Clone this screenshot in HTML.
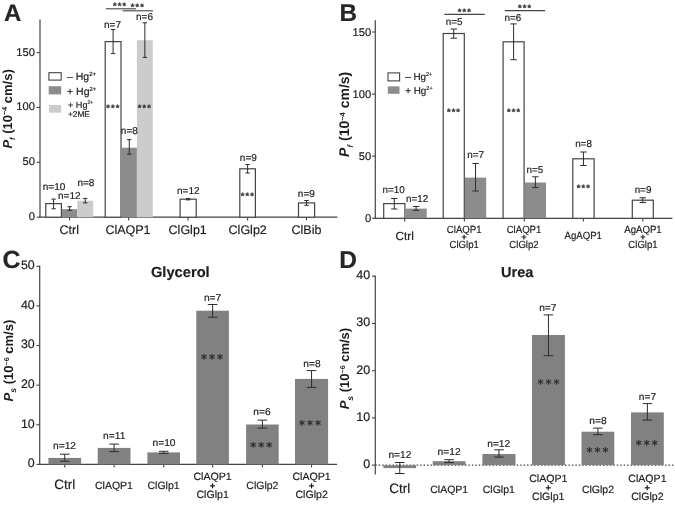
<!DOCTYPE html>
<html><head><meta charset="utf-8"><title>Figure</title>
<style>
html,body{margin:0;padding:0;background:#fff;}
svg{display:block;font-family:"Liberation Sans",sans-serif;text-rendering:geometricPrecision;filter:blur(0.4px);}
</style></head><body>
<svg width="675" height="506" viewBox="0 0 675 506">
<rect x="0" y="0" width="675" height="506" fill="#ffffff"/>
<text x="3.90" y="20.70" font-size="24" text-anchor="start" font-weight="bold" fill="#262626" stroke="#262626" stroke-width="0.18" >A</text>
<line x1="40.00" y1="19.50" x2="40.00" y2="217.80" stroke="#444444" stroke-width="1.2" />
<line x1="39.40" y1="217.20" x2="337.30" y2="217.20" stroke="#444444" stroke-width="1.2" />
<line x1="36.70" y1="217.20" x2="40.00" y2="217.20" stroke="#444444" stroke-width="1.1" />
<text x="35.00" y="220.10" font-size="11.2" text-anchor="end" font-weight="normal" fill="#1c1c1c" stroke="#1c1c1c" stroke-width="0.18" >0</text>
<line x1="36.70" y1="162.33" x2="40.00" y2="162.33" stroke="#444444" stroke-width="1.1" />
<text x="35.00" y="165.23" font-size="11.2" text-anchor="end" font-weight="normal" fill="#1c1c1c" stroke="#1c1c1c" stroke-width="0.18" >50</text>
<line x1="36.70" y1="107.47" x2="40.00" y2="107.47" stroke="#444444" stroke-width="1.1" />
<text x="35.00" y="110.37" font-size="11.2" text-anchor="end" font-weight="normal" fill="#1c1c1c" stroke="#1c1c1c" stroke-width="0.18" >100</text>
<line x1="36.70" y1="52.60" x2="40.00" y2="52.60" stroke="#444444" stroke-width="1.1" />
<text x="35.00" y="55.50" font-size="11.2" text-anchor="end" font-weight="normal" fill="#1c1c1c" stroke="#1c1c1c" stroke-width="0.18" >150</text>
<text transform="translate(11.5,148.6) rotate(-90)" font-size="13" font-weight="bold" fill="#1c1c1c"><tspan font-style="italic">P</tspan><tspan font-style="italic" font-size="7.5" dy="3.6">f</tspan><tspan dy="-3.6"> (10</tspan><tspan font-size="7.2" dy="-4.4">−4</tspan><tspan dy="4.4"> cm/s)</tspan></text>
<line x1="69.50" y1="217.20" x2="69.50" y2="220.40" stroke="#444444" stroke-width="1.1" />
<line x1="128.70" y1="217.20" x2="128.70" y2="220.40" stroke="#444444" stroke-width="1.1" />
<line x1="188.10" y1="217.20" x2="188.10" y2="220.40" stroke="#444444" stroke-width="1.1" />
<line x1="247.60" y1="217.20" x2="247.60" y2="220.40" stroke="#444444" stroke-width="1.1" />
<line x1="306.50" y1="217.20" x2="306.50" y2="220.40" stroke="#444444" stroke-width="1.1" />
<rect x="45.80" y="203.60" width="15.60" height="13.60" fill="#fff" stroke="#444444" stroke-width="1.2"/>
<line x1="53.60" y1="199.10" x2="53.60" y2="208.80" stroke="#2c2c2c" stroke-width="1.0" />
<line x1="51.40" y1="199.10" x2="55.80" y2="199.10" stroke="#2c2c2c" stroke-width="1.0" />
<line x1="51.40" y1="208.80" x2="55.80" y2="208.80" stroke="#2c2c2c" stroke-width="1.0" />
<rect x="62.00" y="209.20" width="15.30" height="8.00" fill="#8c8c8c"/>
<line x1="69.65" y1="206.70" x2="69.65" y2="210.30" stroke="#2c2c2c" stroke-width="1.0" />
<line x1="67.45" y1="206.70" x2="71.85" y2="206.70" stroke="#2c2c2c" stroke-width="1.0" />
<line x1="67.45" y1="210.30" x2="71.85" y2="210.30" stroke="#2c2c2c" stroke-width="1.0" />
<rect x="77.30" y="200.70" width="15.90" height="16.50" fill="#cccccc"/>
<line x1="85.25" y1="198.40" x2="85.25" y2="202.90" stroke="#2c2c2c" stroke-width="1.0" />
<line x1="83.05" y1="198.40" x2="87.45" y2="198.40" stroke="#2c2c2c" stroke-width="1.0" />
<line x1="83.05" y1="202.90" x2="87.45" y2="202.90" stroke="#2c2c2c" stroke-width="1.0" />
<rect x="105.20" y="41.60" width="15.80" height="175.60" fill="#fff" stroke="#444444" stroke-width="1.2"/>
<line x1="113.10" y1="29.50" x2="113.10" y2="53.60" stroke="#2c2c2c" stroke-width="1.0" />
<line x1="110.90" y1="29.50" x2="115.30" y2="29.50" stroke="#2c2c2c" stroke-width="1.0" />
<line x1="110.90" y1="53.60" x2="115.30" y2="53.60" stroke="#2c2c2c" stroke-width="1.0" />
<rect x="121.60" y="147.70" width="15.30" height="69.50" fill="#8c8c8c"/>
<line x1="129.25" y1="139.60" x2="129.25" y2="154.20" stroke="#2c2c2c" stroke-width="1.0" />
<line x1="127.05" y1="139.60" x2="131.45" y2="139.60" stroke="#2c2c2c" stroke-width="1.0" />
<line x1="127.05" y1="154.20" x2="131.45" y2="154.20" stroke="#2c2c2c" stroke-width="1.0" />
<rect x="136.90" y="40.20" width="15.90" height="177.00" fill="#cccccc"/>
<line x1="144.85" y1="22.80" x2="144.85" y2="57.40" stroke="#2c2c2c" stroke-width="1.0" />
<line x1="142.65" y1="22.80" x2="147.05" y2="22.80" stroke="#2c2c2c" stroke-width="1.0" />
<line x1="142.65" y1="57.40" x2="147.05" y2="57.40" stroke="#2c2c2c" stroke-width="1.0" />
<rect x="180.10" y="199.20" width="16.10" height="18.00" fill="#fff" stroke="#444444" stroke-width="1.2"/>
<line x1="188.15" y1="198.60" x2="188.15" y2="199.90" stroke="#2c2c2c" stroke-width="1.0" />
<line x1="185.95" y1="198.60" x2="190.35" y2="198.60" stroke="#2c2c2c" stroke-width="1.0" />
<line x1="185.95" y1="199.90" x2="190.35" y2="199.90" stroke="#2c2c2c" stroke-width="1.0" />
<rect x="239.80" y="168.80" width="15.60" height="48.40" fill="#fff" stroke="#444444" stroke-width="1.2"/>
<line x1="247.60" y1="164.50" x2="247.60" y2="173.00" stroke="#2c2c2c" stroke-width="1.0" />
<line x1="245.40" y1="164.50" x2="249.80" y2="164.50" stroke="#2c2c2c" stroke-width="1.0" />
<line x1="245.40" y1="173.00" x2="249.80" y2="173.00" stroke="#2c2c2c" stroke-width="1.0" />
<rect x="298.50" y="202.90" width="16.10" height="14.30" fill="#fff" stroke="#444444" stroke-width="1.2"/>
<line x1="306.55" y1="200.50" x2="306.55" y2="205.30" stroke="#2c2c2c" stroke-width="1.0" />
<line x1="304.35" y1="200.50" x2="308.75" y2="200.50" stroke="#2c2c2c" stroke-width="1.0" />
<line x1="304.35" y1="205.30" x2="308.75" y2="205.30" stroke="#2c2c2c" stroke-width="1.0" />
<text transform="translate(54.00,189.60) scale(1.0,1)" font-size="10.0" text-anchor="middle" fill="#1c1c1c" stroke="#1c1c1c" stroke-width="0.18">n=10</text>
<text transform="translate(69.30,198.60) scale(1.0,1)" font-size="10.0" text-anchor="middle" fill="#1c1c1c" stroke="#1c1c1c" stroke-width="0.18">n=12</text>
<text transform="translate(85.90,185.60) scale(1.0,1)" font-size="10.0" text-anchor="middle" fill="#1c1c1c" stroke="#1c1c1c" stroke-width="0.18">n=8</text>
<text transform="translate(112.50,27.50) scale(1.0,1)" font-size="10.0" text-anchor="middle" fill="#1c1c1c" stroke="#1c1c1c" stroke-width="0.18">n=7</text>
<text transform="translate(129.30,133.50) scale(1.0,1)" font-size="10.0" text-anchor="middle" fill="#1c1c1c" stroke="#1c1c1c" stroke-width="0.18">n=8</text>
<text transform="translate(144.50,19.80) scale(1.0,1)" font-size="10.0" text-anchor="middle" fill="#1c1c1c" stroke="#1c1c1c" stroke-width="0.18">n=6</text>
<text transform="translate(188.30,193.60) scale(1.0,1)" font-size="10.0" text-anchor="middle" fill="#1c1c1c" stroke="#1c1c1c" stroke-width="0.18">n=12</text>
<text transform="translate(248.30,161.10) scale(1.0,1)" font-size="10.0" text-anchor="middle" fill="#1c1c1c" stroke="#1c1c1c" stroke-width="0.18">n=9</text>
<text transform="translate(306.30,196.80) scale(1.0,1)" font-size="10.0" text-anchor="middle" fill="#1c1c1c" stroke="#1c1c1c" stroke-width="0.18">n=9</text>
<text x="113.30" y="110.89" font-size="9.2" letter-spacing="1.15" text-anchor="middle" font-weight="bold" fill="#333333" stroke="#333333" stroke-width="0.3">***</text>
<text x="144.90" y="110.89" font-size="9.2" letter-spacing="1.15" text-anchor="middle" font-weight="bold" fill="#333333" stroke="#333333" stroke-width="0.3">***</text>
<text x="247.90" y="198.79" font-size="9.2" letter-spacing="1.15" text-anchor="middle" font-weight="bold" fill="#333333" stroke="#333333" stroke-width="0.3">***</text>
<line x1="105.90" y1="8.80" x2="136.00" y2="8.80" stroke="#444444" stroke-width="1.1" />
<line x1="122.60" y1="10.80" x2="153.00" y2="10.80" stroke="#444444" stroke-width="1.1" />
<text x="120.10" y="8.99" font-size="9.2" letter-spacing="1.15" text-anchor="middle" font-weight="bold" fill="#333333" stroke="#333333" stroke-width="0.3">***</text>
<text x="137.90" y="10.29" font-size="9.2" letter-spacing="1.15" text-anchor="middle" font-weight="bold" fill="#333333" stroke="#333333" stroke-width="0.3">***</text>
<rect x="48.90" y="72.70" width="12.30" height="7.40" fill="#fff" stroke="#444444" stroke-width="1.1"/>
<rect x="48.70" y="86.20" width="12.50" height="8.20" fill="#8c8c8c"/>
<rect x="49.00" y="105.00" width="12.20" height="7.70" fill="#cccccc"/>
<text x="67" y="80" font-size="10.5" fill="#1c1c1c" stroke="#1c1c1c" stroke-width="0.18">– Hg<tspan font-size="5.9" dy="-3.7">2+</tspan></text>
<text x="67" y="94.7" font-size="10.5" fill="#1c1c1c" stroke="#1c1c1c" stroke-width="0.18">+ Hg<tspan font-size="5.9" dy="-3.7">2+</tspan></text>
<text x="68" y="107.6" font-size="9.1" fill="#1c1c1c" stroke="#1c1c1c" stroke-width="0.18">+ Hg<tspan font-size="5.1" dy="-3.2">2+</tspan></text>
<text x="68.00" y="116.60" font-size="8.3" text-anchor="start" font-weight="normal" fill="#1c1c1c" stroke="#1c1c1c" stroke-width="0.18" >+2ME</text>
<text x="69.20" y="234.40" font-size="12.5" text-anchor="middle" font-weight="normal" fill="#1c1c1c" stroke="#1c1c1c" stroke-width="0.18" >Ctrl</text>
<text x="128.00" y="234.40" font-size="12.5" text-anchor="middle" font-weight="normal" fill="#1c1c1c" stroke="#1c1c1c" stroke-width="0.18" >ClAQP1</text>
<text x="187.70" y="234.40" font-size="12.5" text-anchor="middle" font-weight="normal" fill="#1c1c1c" stroke="#1c1c1c" stroke-width="0.18" >ClGlp1</text>
<text x="247.70" y="234.40" font-size="12.5" text-anchor="middle" font-weight="normal" fill="#1c1c1c" stroke="#1c1c1c" stroke-width="0.18" >ClGlp2</text>
<text x="306.50" y="234.40" font-size="12.5" text-anchor="middle" font-weight="normal" fill="#1c1c1c" stroke="#1c1c1c" stroke-width="0.18" >ClBib</text>
<text x="339.40" y="20.50" font-size="24.3" text-anchor="start" font-weight="bold" fill="#262626" stroke="#262626" stroke-width="0.18" >B</text>
<line x1="375.30" y1="20.20" x2="375.30" y2="218.90" stroke="#444444" stroke-width="1.2" />
<line x1="374.70" y1="218.30" x2="672.40" y2="218.30" stroke="#444444" stroke-width="1.2" />
<line x1="372.00" y1="218.30" x2="375.30" y2="218.30" stroke="#444444" stroke-width="1.1" />
<text x="371.20" y="222.00" font-size="11.2" text-anchor="end" font-weight="normal" fill="#1c1c1c" stroke="#1c1c1c" stroke-width="0.18" >0</text>
<line x1="372.00" y1="156.20" x2="375.30" y2="156.20" stroke="#444444" stroke-width="1.1" />
<text x="371.20" y="159.90" font-size="11.2" text-anchor="end" font-weight="normal" fill="#1c1c1c" stroke="#1c1c1c" stroke-width="0.18" >50</text>
<line x1="372.00" y1="94.10" x2="375.30" y2="94.10" stroke="#444444" stroke-width="1.1" />
<text x="371.20" y="97.80" font-size="11.2" text-anchor="end" font-weight="normal" fill="#1c1c1c" stroke="#1c1c1c" stroke-width="0.18" >100</text>
<line x1="372.00" y1="32.00" x2="375.30" y2="32.00" stroke="#444444" stroke-width="1.1" />
<text x="371.20" y="35.70" font-size="11.2" text-anchor="end" font-weight="normal" fill="#1c1c1c" stroke="#1c1c1c" stroke-width="0.18" >150</text>
<text transform="translate(349.0,156.9) rotate(-90)" font-size="14" font-weight="bold" fill="#1c1c1c"><tspan font-style="italic">P</tspan><tspan font-style="italic" font-size="7.9" dy="3.6">f</tspan><tspan dy="-3.6"> (10</tspan><tspan font-size="7.5" dy="-4.4">−4</tspan><tspan dy="4.4"> cm/s)</tspan></text>
<line x1="404.70" y1="218.30" x2="404.70" y2="221.50" stroke="#444444" stroke-width="1.1" />
<line x1="464.40" y1="218.30" x2="464.40" y2="221.50" stroke="#444444" stroke-width="1.1" />
<line x1="524.30" y1="218.30" x2="524.30" y2="221.50" stroke="#444444" stroke-width="1.1" />
<line x1="583.40" y1="218.30" x2="583.40" y2="221.50" stroke="#444444" stroke-width="1.1" />
<line x1="642.80" y1="218.30" x2="642.80" y2="221.50" stroke="#444444" stroke-width="1.1" />
<rect x="383.70" y="203.60" width="21.20" height="14.70" fill="#fff" stroke="#444444" stroke-width="1.2"/>
<line x1="394.30" y1="198.50" x2="394.30" y2="209.00" stroke="#2c2c2c" stroke-width="1.0" />
<line x1="391.10" y1="198.50" x2="397.50" y2="198.50" stroke="#2c2c2c" stroke-width="1.0" />
<line x1="391.10" y1="209.00" x2="397.50" y2="209.00" stroke="#2c2c2c" stroke-width="1.0" />
<rect x="405.50" y="208.60" width="21.20" height="9.70" fill="#8c8c8c"/>
<line x1="416.10" y1="206.50" x2="416.10" y2="210.30" stroke="#2c2c2c" stroke-width="1.0" />
<line x1="412.90" y1="206.50" x2="419.30" y2="206.50" stroke="#2c2c2c" stroke-width="1.0" />
<line x1="412.90" y1="210.30" x2="419.30" y2="210.30" stroke="#2c2c2c" stroke-width="1.0" />
<rect x="443.20" y="33.50" width="21.10" height="184.80" fill="#fff" stroke="#444444" stroke-width="1.2"/>
<line x1="453.75" y1="29.00" x2="453.75" y2="38.20" stroke="#2c2c2c" stroke-width="1.0" />
<line x1="450.55" y1="29.00" x2="456.95" y2="29.00" stroke="#2c2c2c" stroke-width="1.0" />
<line x1="450.55" y1="38.20" x2="456.95" y2="38.20" stroke="#2c2c2c" stroke-width="1.0" />
<rect x="464.90" y="177.60" width="21.30" height="40.70" fill="#8c8c8c"/>
<line x1="475.55" y1="163.50" x2="475.55" y2="191.00" stroke="#2c2c2c" stroke-width="1.0" />
<line x1="472.35" y1="163.50" x2="478.75" y2="163.50" stroke="#2c2c2c" stroke-width="1.0" />
<line x1="472.35" y1="191.00" x2="478.75" y2="191.00" stroke="#2c2c2c" stroke-width="1.0" />
<rect x="503.10" y="41.80" width="21.00" height="176.50" fill="#fff" stroke="#444444" stroke-width="1.2"/>
<line x1="513.60" y1="23.90" x2="513.60" y2="59.70" stroke="#2c2c2c" stroke-width="1.0" />
<line x1="510.40" y1="23.90" x2="516.80" y2="23.90" stroke="#2c2c2c" stroke-width="1.0" />
<line x1="510.40" y1="59.70" x2="516.80" y2="59.70" stroke="#2c2c2c" stroke-width="1.0" />
<rect x="524.70" y="182.50" width="21.30" height="35.80" fill="#8c8c8c"/>
<line x1="535.35" y1="176.80" x2="535.35" y2="187.60" stroke="#2c2c2c" stroke-width="1.0" />
<line x1="532.15" y1="176.80" x2="538.55" y2="176.80" stroke="#2c2c2c" stroke-width="1.0" />
<line x1="532.15" y1="187.60" x2="538.55" y2="187.60" stroke="#2c2c2c" stroke-width="1.0" />
<rect x="572.80" y="158.80" width="21.30" height="59.50" fill="#fff" stroke="#444444" stroke-width="1.2"/>
<line x1="583.45" y1="152.00" x2="583.45" y2="165.50" stroke="#2c2c2c" stroke-width="1.0" />
<line x1="580.25" y1="152.00" x2="586.65" y2="152.00" stroke="#2c2c2c" stroke-width="1.0" />
<line x1="580.25" y1="165.50" x2="586.65" y2="165.50" stroke="#2c2c2c" stroke-width="1.0" />
<rect x="632.30" y="200.20" width="21.00" height="18.10" fill="#fff" stroke="#444444" stroke-width="1.2"/>
<line x1="642.80" y1="197.80" x2="642.80" y2="202.60" stroke="#2c2c2c" stroke-width="1.0" />
<line x1="639.60" y1="197.80" x2="646.00" y2="197.80" stroke="#2c2c2c" stroke-width="1.0" />
<line x1="639.60" y1="202.60" x2="646.00" y2="202.60" stroke="#2c2c2c" stroke-width="1.0" />
<text transform="translate(393.70,193.10) scale(1.0,1)" font-size="9.9" text-anchor="middle" fill="#1c1c1c" stroke="#1c1c1c" stroke-width="0.18">n=10</text>
<text transform="translate(417.10,201.70) scale(1.0,1)" font-size="9.9" text-anchor="middle" fill="#1c1c1c" stroke="#1c1c1c" stroke-width="0.18">n=12</text>
<text transform="translate(454.20,25.20) scale(1.0,1)" font-size="9.9" text-anchor="middle" fill="#1c1c1c" stroke="#1c1c1c" stroke-width="0.18">n=5</text>
<text transform="translate(475.70,158.30) scale(1.0,1)" font-size="9.9" text-anchor="middle" fill="#1c1c1c" stroke="#1c1c1c" stroke-width="0.18">n=7</text>
<text transform="translate(512.90,20.80) scale(1.0,1)" font-size="9.9" text-anchor="middle" fill="#1c1c1c" stroke="#1c1c1c" stroke-width="0.18">n=6</text>
<text transform="translate(534.80,172.80) scale(1.0,1)" font-size="9.9" text-anchor="middle" fill="#1c1c1c" stroke="#1c1c1c" stroke-width="0.18">n=5</text>
<text transform="translate(583.50,146.70) scale(1.0,1)" font-size="9.9" text-anchor="middle" fill="#1c1c1c" stroke="#1c1c1c" stroke-width="0.18">n=8</text>
<text transform="translate(643.00,192.50) scale(1.0,1)" font-size="9.9" text-anchor="middle" fill="#1c1c1c" stroke="#1c1c1c" stroke-width="0.18">n=9</text>
<text x="454.00" y="114.69" font-size="9.2" letter-spacing="1.15" text-anchor="middle" font-weight="bold" fill="#333333" stroke="#333333" stroke-width="0.3">***</text>
<text x="514.10" y="114.69" font-size="9.2" letter-spacing="1.15" text-anchor="middle" font-weight="bold" fill="#333333" stroke="#333333" stroke-width="0.3">***</text>
<text x="583.80" y="190.99" font-size="9.2" letter-spacing="1.15" text-anchor="middle" font-weight="bold" fill="#333333" stroke="#333333" stroke-width="0.3">***</text>
<line x1="444.40" y1="14.40" x2="484.70" y2="14.40" stroke="#444444" stroke-width="1.1" />
<line x1="504.80" y1="10.60" x2="545.10" y2="10.60" stroke="#444444" stroke-width="1.1" />
<text x="464.90" y="14.89" font-size="9.2" letter-spacing="1.15" text-anchor="middle" font-weight="bold" fill="#333333" stroke="#333333" stroke-width="0.3">***</text>
<text x="525.10" y="11.19" font-size="9.2" letter-spacing="1.15" text-anchor="middle" font-weight="bold" fill="#333333" stroke="#333333" stroke-width="0.3">***</text>
<rect x="388.00" y="72.90" width="11.60" height="8.00" fill="#fff" stroke="#444444" stroke-width="1.1"/>
<rect x="387.80" y="86.40" width="11.70" height="7.40" fill="#8c8c8c"/>
<text x="405.2" y="79.9" font-size="9.9" fill="#1c1c1c" stroke="#1c1c1c" stroke-width="0.18">– Hg<tspan font-size="5.5" dy="-3.5">2+</tspan></text>
<text x="405.2" y="93.9" font-size="9.9" fill="#1c1c1c" stroke="#1c1c1c" stroke-width="0.18">+ Hg<tspan font-size="5.5" dy="-3.5">2+</tspan></text>
<text x="404.70" y="240.10" font-size="11.8" text-anchor="middle" font-weight="normal" fill="#1c1c1c" stroke="#1c1c1c" stroke-width="0.18" >Ctrl</text>
<text transform="translate(464.20,232.90) scale(0.925,1)" font-size="10.4" text-anchor="middle" font-weight="normal" fill="#1c1c1c" stroke="#1c1c1c" stroke-width="0.18">ClAQP1</text>
<text x="464.20" y="239.50" font-size="9" text-anchor="middle" font-weight="bold" fill="#1c1c1c" stroke="#1c1c1c" stroke-width="0.18" >+</text>
<text transform="translate(464.20,248.00) scale(0.925,1)" font-size="10.4" text-anchor="middle" font-weight="normal" fill="#1c1c1c" stroke="#1c1c1c" stroke-width="0.18">ClGlp1</text>
<text transform="translate(524.00,232.90) scale(0.925,1)" font-size="10.4" text-anchor="middle" font-weight="normal" fill="#1c1c1c" stroke="#1c1c1c" stroke-width="0.18">ClAQP1</text>
<text x="524.00" y="239.50" font-size="9" text-anchor="middle" font-weight="bold" fill="#1c1c1c" stroke="#1c1c1c" stroke-width="0.18" >+</text>
<text transform="translate(524.00,248.00) scale(0.925,1)" font-size="10.4" text-anchor="middle" font-weight="normal" fill="#1c1c1c" stroke="#1c1c1c" stroke-width="0.18">ClGlp2</text>
<text transform="translate(643.00,232.90) scale(0.925,1)" font-size="10.4" text-anchor="middle" font-weight="normal" fill="#1c1c1c" stroke="#1c1c1c" stroke-width="0.18">AgAQP1</text>
<text x="643.00" y="239.50" font-size="9" text-anchor="middle" font-weight="bold" fill="#1c1c1c" stroke="#1c1c1c" stroke-width="0.18" >+</text>
<text transform="translate(643.00,248.00) scale(0.925,1)" font-size="10.4" text-anchor="middle" font-weight="normal" fill="#1c1c1c" stroke="#1c1c1c" stroke-width="0.18">ClGlp1</text>
<text transform="translate(583.20,239.20) scale(0.925,1)" font-size="10.4" text-anchor="middle" font-weight="normal" fill="#1c1c1c" stroke="#1c1c1c" stroke-width="0.18">AgAQP1</text>
<text x="2.60" y="268.20" font-size="24.8" text-anchor="start" font-weight="bold" fill="#262626" stroke="#262626" stroke-width="0.18" >C</text>
<line x1="39.70" y1="265.60" x2="39.70" y2="465.00" stroke="#444444" stroke-width="1.2" />
<line x1="39.10" y1="464.40" x2="337.00" y2="464.40" stroke="#444444" stroke-width="1.2" />
<line x1="36.40" y1="464.40" x2="39.70" y2="464.40" stroke="#444444" stroke-width="1.1" />
<text x="34.70" y="467.35" font-size="12.4" text-anchor="end" font-weight="normal" fill="#1c1c1c" stroke="#1c1c1c" stroke-width="0.18" >0</text>
<line x1="36.40" y1="424.78" x2="39.70" y2="424.78" stroke="#444444" stroke-width="1.1" />
<text x="34.70" y="427.73" font-size="12.4" text-anchor="end" font-weight="normal" fill="#1c1c1c" stroke="#1c1c1c" stroke-width="0.18" >10</text>
<line x1="36.40" y1="385.16" x2="39.70" y2="385.16" stroke="#444444" stroke-width="1.1" />
<text x="34.70" y="388.11" font-size="12.4" text-anchor="end" font-weight="normal" fill="#1c1c1c" stroke="#1c1c1c" stroke-width="0.18" >20</text>
<line x1="36.40" y1="345.54" x2="39.70" y2="345.54" stroke="#444444" stroke-width="1.1" />
<text x="34.70" y="348.49" font-size="12.4" text-anchor="end" font-weight="normal" fill="#1c1c1c" stroke="#1c1c1c" stroke-width="0.18" >30</text>
<line x1="36.40" y1="305.92" x2="39.70" y2="305.92" stroke="#444444" stroke-width="1.1" />
<text x="34.70" y="308.87" font-size="12.4" text-anchor="end" font-weight="normal" fill="#1c1c1c" stroke="#1c1c1c" stroke-width="0.18" >40</text>
<line x1="36.40" y1="266.30" x2="39.70" y2="266.30" stroke="#444444" stroke-width="1.1" />
<text x="34.70" y="269.25" font-size="12.4" text-anchor="end" font-weight="normal" fill="#1c1c1c" stroke="#1c1c1c" stroke-width="0.18" >50</text>
<text transform="translate(13.0,401.5) rotate(-90)" font-size="13.1" font-weight="bold" fill="#1c1c1c"><tspan font-style="italic">P</tspan><tspan font-style="italic" font-size="8.6" dy="3.4">s</tspan><tspan dy="-3.4"> (10</tspan><tspan font-size="7.0" dy="-4.4">−6</tspan><tspan dy="4.4"> cm/s)</tspan></text>
<text x="180.30" y="276.60" font-size="14.7" text-anchor="middle" font-weight="bold" fill="#1c1c1c" stroke="#1c1c1c" stroke-width="0.18" >Glycerol</text>
<line x1="64.75" y1="464.40" x2="64.75" y2="467.60" stroke="#444444" stroke-width="1.1" />
<line x1="114.10" y1="464.40" x2="114.10" y2="467.60" stroke="#444444" stroke-width="1.1" />
<line x1="163.70" y1="464.40" x2="163.70" y2="467.60" stroke="#444444" stroke-width="1.1" />
<line x1="212.60" y1="464.40" x2="212.60" y2="467.60" stroke="#444444" stroke-width="1.1" />
<line x1="262.40" y1="464.40" x2="262.40" y2="467.60" stroke="#444444" stroke-width="1.1" />
<line x1="311.55" y1="464.40" x2="311.55" y2="467.60" stroke="#444444" stroke-width="1.1" />
<rect x="48.40" y="457.90" width="32.70" height="6.50" fill="#818181"/>
<line x1="64.75" y1="454.20" x2="64.75" y2="461.20" stroke="#2c2c2c" stroke-width="1.0" />
<line x1="59.95" y1="454.20" x2="69.55" y2="454.20" stroke="#2c2c2c" stroke-width="1.0" />
<line x1="59.95" y1="461.20" x2="69.55" y2="461.20" stroke="#2c2c2c" stroke-width="1.0" />
<rect x="97.70" y="447.90" width="32.80" height="16.50" fill="#818181"/>
<line x1="114.10" y1="444.10" x2="114.10" y2="451.60" stroke="#2c2c2c" stroke-width="1.0" />
<line x1="109.30" y1="444.10" x2="118.90" y2="444.10" stroke="#2c2c2c" stroke-width="1.0" />
<line x1="109.30" y1="451.60" x2="118.90" y2="451.60" stroke="#2c2c2c" stroke-width="1.0" />
<rect x="147.40" y="452.40" width="32.60" height="12.00" fill="#818181"/>
<line x1="163.70" y1="451.30" x2="163.70" y2="453.40" stroke="#2c2c2c" stroke-width="1.0" />
<line x1="158.90" y1="451.30" x2="168.50" y2="451.30" stroke="#2c2c2c" stroke-width="1.0" />
<line x1="158.90" y1="453.40" x2="168.50" y2="453.40" stroke="#2c2c2c" stroke-width="1.0" />
<rect x="196.30" y="310.70" width="32.60" height="153.70" fill="#818181"/>
<line x1="212.60" y1="304.50" x2="212.60" y2="317.20" stroke="#2c2c2c" stroke-width="1.0" />
<line x1="207.80" y1="304.50" x2="217.40" y2="304.50" stroke="#2c2c2c" stroke-width="1.0" />
<line x1="207.80" y1="317.20" x2="217.40" y2="317.20" stroke="#2c2c2c" stroke-width="1.0" />
<rect x="246.10" y="424.50" width="32.60" height="39.90" fill="#818181"/>
<line x1="262.40" y1="420.10" x2="262.40" y2="428.10" stroke="#2c2c2c" stroke-width="1.0" />
<line x1="257.60" y1="420.10" x2="267.20" y2="420.10" stroke="#2c2c2c" stroke-width="1.0" />
<line x1="257.60" y1="428.10" x2="267.20" y2="428.10" stroke="#2c2c2c" stroke-width="1.0" />
<rect x="295.00" y="378.90" width="33.10" height="85.50" fill="#818181"/>
<line x1="311.55" y1="370.60" x2="311.55" y2="387.40" stroke="#2c2c2c" stroke-width="1.0" />
<line x1="306.75" y1="370.60" x2="316.35" y2="370.60" stroke="#2c2c2c" stroke-width="1.0" />
<line x1="306.75" y1="387.40" x2="316.35" y2="387.40" stroke="#2c2c2c" stroke-width="1.0" />
<text transform="translate(64.50,449.10) scale(1.02,1)" font-size="10.0" text-anchor="middle" fill="#1c1c1c" stroke="#1c1c1c" stroke-width="0.18">n=12</text>
<text transform="translate(114.20,438.50) scale(1.02,1)" font-size="10.0" text-anchor="middle" fill="#1c1c1c" stroke="#1c1c1c" stroke-width="0.18">n=11</text>
<text transform="translate(164.00,445.90) scale(1.02,1)" font-size="10.0" text-anchor="middle" fill="#1c1c1c" stroke="#1c1c1c" stroke-width="0.18">n=10</text>
<text transform="translate(212.60,300.90) scale(1.02,1)" font-size="10.0" text-anchor="middle" fill="#1c1c1c" stroke="#1c1c1c" stroke-width="0.18">n=7</text>
<text transform="translate(261.90,415.40) scale(1.02,1)" font-size="10.0" text-anchor="middle" fill="#1c1c1c" stroke="#1c1c1c" stroke-width="0.18">n=6</text>
<text transform="translate(311.90,367.00) scale(1.02,1)" font-size="10.0" text-anchor="middle" fill="#1c1c1c" stroke="#1c1c1c" stroke-width="0.18">n=8</text>
<text x="213.10" y="363.24" font-family="DejaVu Sans, Liberation Sans, sans-serif" font-size="12.0" letter-spacing="2.0" text-anchor="middle" fill="#282828" stroke="#282828" stroke-width="0.32">***</text>
<text x="262.30" y="451.04" font-family="DejaVu Sans, Liberation Sans, sans-serif" font-size="12.0" letter-spacing="2.0" text-anchor="middle" fill="#282828" stroke="#282828" stroke-width="0.32">***</text>
<text x="311.10" y="428.84" font-family="DejaVu Sans, Liberation Sans, sans-serif" font-size="12.0" letter-spacing="2.0" text-anchor="middle" fill="#282828" stroke="#282828" stroke-width="0.32">***</text>
<text x="64.70" y="489.40" font-size="13.5" text-anchor="middle" font-weight="normal" fill="#1c1c1c" stroke="#1c1c1c" stroke-width="0.18" >Ctrl</text>
<text x="114.00" y="489.20" font-size="10.5" text-anchor="middle" font-weight="normal" fill="#1c1c1c" stroke="#1c1c1c" stroke-width="0.18" >ClAQP1</text>
<text x="163.60" y="489.20" font-size="10.5" text-anchor="middle" font-weight="normal" fill="#1c1c1c" stroke="#1c1c1c" stroke-width="0.18" >ClGlp1</text>
<text x="262.40" y="489.20" font-size="10.5" text-anchor="middle" font-weight="normal" fill="#1c1c1c" stroke="#1c1c1c" stroke-width="0.18" >ClGlp2</text>
<text x="212.60" y="480.00" font-size="10.6" text-anchor="middle" font-weight="normal" fill="#1c1c1c" stroke="#1c1c1c" stroke-width="0.18" >ClAQP1</text>
<text x="212.60" y="489.00" font-size="9.5" text-anchor="middle" font-weight="bold" fill="#1c1c1c" stroke="#1c1c1c" stroke-width="0.18" >+</text>
<text x="212.60" y="497.80" font-size="10.6" text-anchor="middle" font-weight="normal" fill="#1c1c1c" stroke="#1c1c1c" stroke-width="0.18" >ClGlp1</text>
<text x="311.60" y="480.00" font-size="10.6" text-anchor="middle" font-weight="normal" fill="#1c1c1c" stroke="#1c1c1c" stroke-width="0.18" >ClAQP1</text>
<text x="311.60" y="489.00" font-size="9.5" text-anchor="middle" font-weight="bold" fill="#1c1c1c" stroke="#1c1c1c" stroke-width="0.18" >+</text>
<text x="311.60" y="497.80" font-size="10.6" text-anchor="middle" font-weight="normal" fill="#1c1c1c" stroke="#1c1c1c" stroke-width="0.18" >ClGlp2</text>
<text x="339.30" y="268.40" font-size="24.5" text-anchor="start" font-weight="bold" fill="#262626" stroke="#262626" stroke-width="0.18" >D</text>
<line x1="375.30" y1="275.50" x2="375.30" y2="474.50" stroke="#444444" stroke-width="1.2" />
<line x1="375.30" y1="465.20" x2="673.50" y2="465.20" stroke="#3a3a3a" stroke-width="1.2" stroke-dasharray="1.4 2.05"/>
<line x1="372.00" y1="465.20" x2="375.30" y2="465.20" stroke="#444444" stroke-width="1.1" />
<text x="370.10" y="468.10" font-size="12.5" text-anchor="end" font-weight="normal" fill="#1c1c1c" stroke="#1c1c1c" stroke-width="0.18" >0</text>
<line x1="372.00" y1="417.95" x2="375.30" y2="417.95" stroke="#444444" stroke-width="1.1" />
<text x="370.10" y="420.85" font-size="12.5" text-anchor="end" font-weight="normal" fill="#1c1c1c" stroke="#1c1c1c" stroke-width="0.18" >10</text>
<line x1="372.00" y1="370.70" x2="375.30" y2="370.70" stroke="#444444" stroke-width="1.1" />
<text x="370.10" y="373.60" font-size="12.5" text-anchor="end" font-weight="normal" fill="#1c1c1c" stroke="#1c1c1c" stroke-width="0.18" >20</text>
<line x1="372.00" y1="323.45" x2="375.30" y2="323.45" stroke="#444444" stroke-width="1.1" />
<text x="370.10" y="326.35" font-size="12.5" text-anchor="end" font-weight="normal" fill="#1c1c1c" stroke="#1c1c1c" stroke-width="0.18" >30</text>
<line x1="372.00" y1="276.20" x2="375.30" y2="276.20" stroke="#444444" stroke-width="1.1" />
<text x="370.10" y="279.10" font-size="12.5" text-anchor="end" font-weight="normal" fill="#1c1c1c" stroke="#1c1c1c" stroke-width="0.18" >40</text>
<text transform="translate(349.4,409.3) rotate(-90)" font-size="13.0" font-weight="bold" fill="#1c1c1c"><tspan font-style="italic">P</tspan><tspan font-style="italic" font-size="8.6" dy="3.4">s</tspan><tspan dy="-3.4"> (10</tspan><tspan font-size="7.0" dy="-4.4">−6</tspan><tspan dy="4.4"> cm/s)</tspan></text>
<text x="517.20" y="276.60" font-size="14.5" text-anchor="middle" font-weight="bold" fill="#1c1c1c" stroke="#1c1c1c" stroke-width="0.18" >Urea</text>
<rect x="383.40" y="465.20" width="32.70" height="2.90" fill="#818181"/>
<line x1="399.75" y1="462.50" x2="399.75" y2="473.50" stroke="#2c2c2c" stroke-width="1.0" />
<line x1="394.95" y1="462.50" x2="404.55" y2="462.50" stroke="#2c2c2c" stroke-width="1.0" />
<line x1="394.95" y1="473.50" x2="404.55" y2="473.50" stroke="#2c2c2c" stroke-width="1.0" />
<rect x="432.70" y="461.20" width="32.80" height="4.00" fill="#818181"/>
<line x1="449.10" y1="459.70" x2="449.10" y2="462.60" stroke="#2c2c2c" stroke-width="1.0" />
<line x1="444.30" y1="459.70" x2="453.90" y2="459.70" stroke="#2c2c2c" stroke-width="1.0" />
<line x1="444.30" y1="462.60" x2="453.90" y2="462.60" stroke="#2c2c2c" stroke-width="1.0" />
<rect x="482.40" y="454.00" width="33.10" height="11.20" fill="#818181"/>
<line x1="498.95" y1="449.80" x2="498.95" y2="457.10" stroke="#2c2c2c" stroke-width="1.0" />
<line x1="494.15" y1="449.80" x2="503.75" y2="449.80" stroke="#2c2c2c" stroke-width="1.0" />
<line x1="494.15" y1="457.10" x2="503.75" y2="457.10" stroke="#2c2c2c" stroke-width="1.0" />
<rect x="532.00" y="335.00" width="32.90" height="130.20" fill="#818181"/>
<line x1="548.45" y1="314.90" x2="548.45" y2="355.70" stroke="#2c2c2c" stroke-width="1.0" />
<line x1="543.65" y1="314.90" x2="553.25" y2="314.90" stroke="#2c2c2c" stroke-width="1.0" />
<line x1="543.65" y1="355.70" x2="553.25" y2="355.70" stroke="#2c2c2c" stroke-width="1.0" />
<rect x="581.50" y="431.70" width="32.80" height="33.50" fill="#818181"/>
<line x1="597.90" y1="428.10" x2="597.90" y2="434.70" stroke="#2c2c2c" stroke-width="1.0" />
<line x1="593.10" y1="428.10" x2="602.70" y2="428.10" stroke="#2c2c2c" stroke-width="1.0" />
<line x1="593.10" y1="434.70" x2="602.70" y2="434.70" stroke="#2c2c2c" stroke-width="1.0" />
<rect x="631.00" y="412.40" width="32.80" height="52.80" fill="#818181"/>
<line x1="647.40" y1="403.60" x2="647.40" y2="420.10" stroke="#2c2c2c" stroke-width="1.0" />
<line x1="642.60" y1="403.60" x2="652.20" y2="403.60" stroke="#2c2c2c" stroke-width="1.0" />
<line x1="642.60" y1="420.10" x2="652.20" y2="420.10" stroke="#2c2c2c" stroke-width="1.0" />
<text transform="translate(399.90,458.40) scale(1.02,1)" font-size="10.0" text-anchor="middle" fill="#1c1c1c" stroke="#1c1c1c" stroke-width="0.18">n=12</text>
<text transform="translate(449.10,455.00) scale(1.02,1)" font-size="10.0" text-anchor="middle" fill="#1c1c1c" stroke="#1c1c1c" stroke-width="0.18">n=12</text>
<text transform="translate(498.70,447.30) scale(1.02,1)" font-size="10.0" text-anchor="middle" fill="#1c1c1c" stroke="#1c1c1c" stroke-width="0.18">n=12</text>
<text transform="translate(547.80,311.30) scale(1.02,1)" font-size="10.0" text-anchor="middle" fill="#1c1c1c" stroke="#1c1c1c" stroke-width="0.18">n=7</text>
<text transform="translate(598.00,423.70) scale(1.02,1)" font-size="10.0" text-anchor="middle" fill="#1c1c1c" stroke="#1c1c1c" stroke-width="0.18">n=8</text>
<text transform="translate(647.40,399.60) scale(1.02,1)" font-size="10.0" text-anchor="middle" fill="#1c1c1c" stroke="#1c1c1c" stroke-width="0.18">n=7</text>
<text x="549.40" y="388.14" font-family="DejaVu Sans, Liberation Sans, sans-serif" font-size="12.0" letter-spacing="2.0" text-anchor="middle" fill="#282828" stroke="#282828" stroke-width="0.32">***</text>
<text x="598.40" y="456.14" font-family="DejaVu Sans, Liberation Sans, sans-serif" font-size="12.0" letter-spacing="2.0" text-anchor="middle" fill="#282828" stroke="#282828" stroke-width="0.32">***</text>
<text x="647.80" y="448.74" font-family="DejaVu Sans, Liberation Sans, sans-serif" font-size="12.0" letter-spacing="2.0" text-anchor="middle" fill="#282828" stroke="#282828" stroke-width="0.32">***</text>
<text x="399.70" y="492.80" font-size="13.5" text-anchor="middle" font-weight="normal" fill="#1c1c1c" stroke="#1c1c1c" stroke-width="0.18" >Ctrl</text>
<text x="449.20" y="492.50" font-size="10.5" text-anchor="middle" font-weight="normal" fill="#1c1c1c" stroke="#1c1c1c" stroke-width="0.18" >ClAQP1</text>
<text x="498.80" y="492.50" font-size="10.5" text-anchor="middle" font-weight="normal" fill="#1c1c1c" stroke="#1c1c1c" stroke-width="0.18" >ClGlp1</text>
<text x="598.00" y="492.50" font-size="10.5" text-anchor="middle" font-weight="normal" fill="#1c1c1c" stroke="#1c1c1c" stroke-width="0.18" >ClGlp2</text>
<text x="548.30" y="482.40" font-size="10.6" text-anchor="middle" font-weight="normal" fill="#1c1c1c" stroke="#1c1c1c" stroke-width="0.18" >ClAQP1</text>
<text x="548.30" y="491.20" font-size="9.5" text-anchor="middle" font-weight="bold" fill="#1c1c1c" stroke="#1c1c1c" stroke-width="0.18" >+</text>
<text x="548.30" y="500.30" font-size="10.6" text-anchor="middle" font-weight="normal" fill="#1c1c1c" stroke="#1c1c1c" stroke-width="0.18" >ClGlp1</text>
<text x="647.40" y="482.40" font-size="10.6" text-anchor="middle" font-weight="normal" fill="#1c1c1c" stroke="#1c1c1c" stroke-width="0.18" >ClAQP1</text>
<text x="647.40" y="491.20" font-size="9.5" text-anchor="middle" font-weight="bold" fill="#1c1c1c" stroke="#1c1c1c" stroke-width="0.18" >+</text>
<text x="647.40" y="500.30" font-size="10.6" text-anchor="middle" font-weight="normal" fill="#1c1c1c" stroke="#1c1c1c" stroke-width="0.18" >ClGlp2</text>
</svg>
</body></html>
